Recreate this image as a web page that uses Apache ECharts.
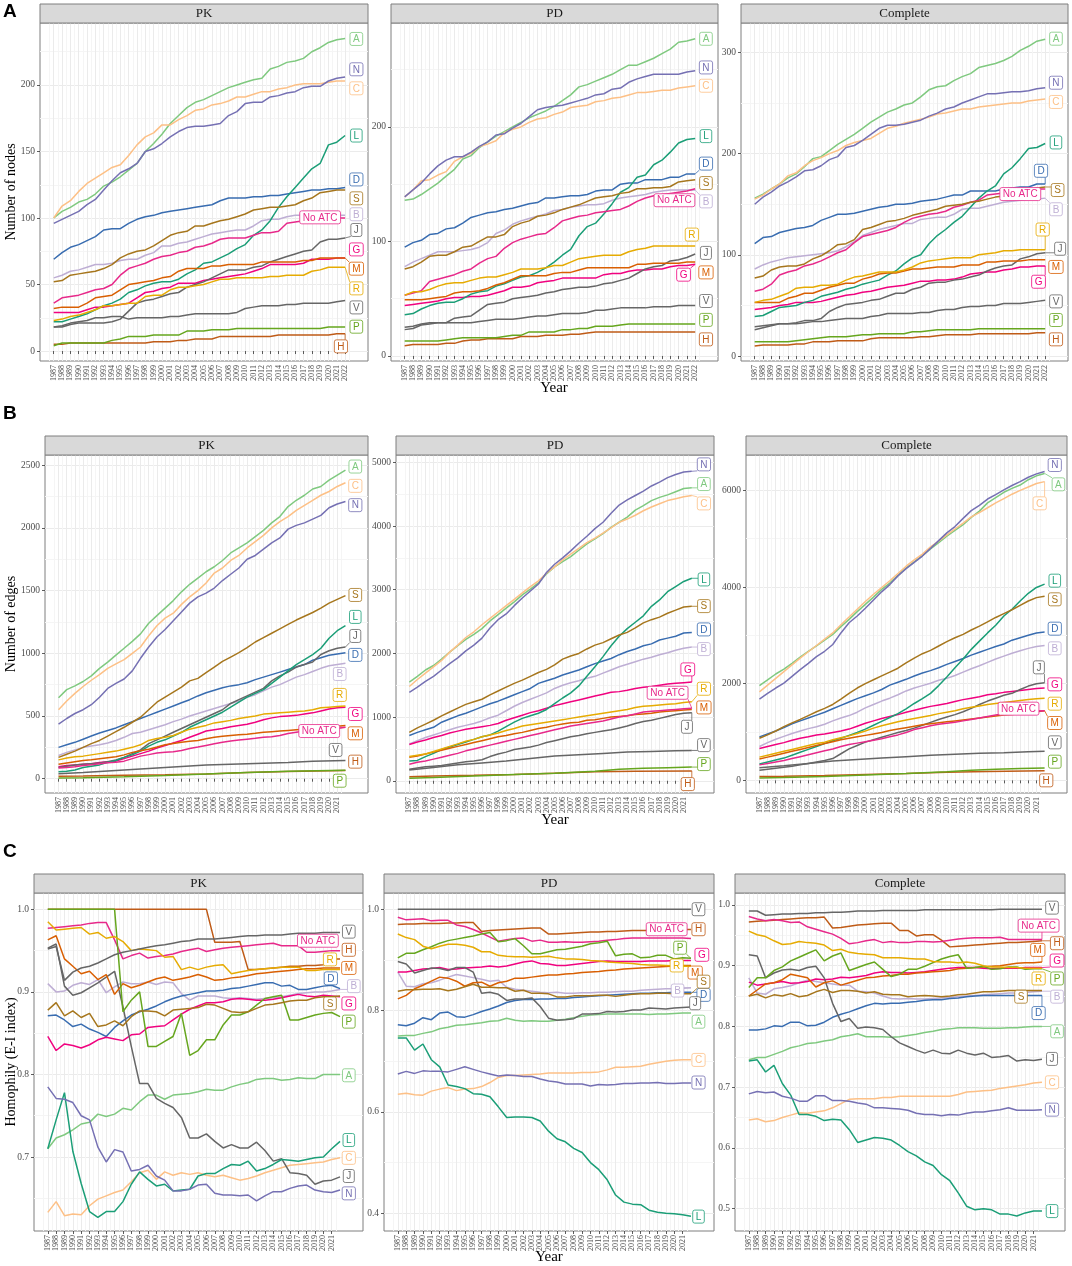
<!DOCTYPE html>
<html>
<head>
<meta charset="utf-8">
<title>Nodes, edges and homophily by ATC group</title>
<script src="https://cdn.jsdelivr.net/npm/echarts@6/dist/echarts.min.js"></script>
<style>
  html, body { margin: 0; padding: 0; background: #fff; }
  #chart { width: 1072px; height: 1266px; }
</style>
</head>
<body>
<div id="chart"></div>
<script>
// x categories
var years = [1987,1988,1989,1990,1991,1992,1993,1994,1995,1996,1997,1998,1999,2000,2001,2002,2003,2004,
             2005,2006,2007,2008,2009,2010,2011,2012,2013,2014,2015,2016,2017,2018,2019,2020,2021,2022];
var yearLabelsA = years;                 // row A labels run to 2022
var yearLabelsBC = years.slice(0, 35);   // rows B and C stop at 2021

var groups = ['A','B','C','D','G','H','J','L','M','N','No ATC','P','R','S','V'];
var groupColors = {
  'A':'#7FC97F','B':'#BEAED4','C':'#FDC086','D':'#386CB0','G':'#F0027F','H':'#BF5B17',
  'J':'#666666','L':'#1B9E77','M':'#D95F02','N':'#7570B3','No ATC':'#E7298A','P':'#66A61E',
  'R':'#E6AB02','S':'#A6761D','V':'#666666'
};

// ---- A: number of nodes (one value per year 1987-2022) ----
var nodesPK = {
  'A':[100,105,108,112,114,118,124,127,131,136, 141,150,156,163,171,177,183,187,189,192, 195,198,200,202,204,205,212,214,217,218, 220,225,228,232,234,235],
  'B':[55,57,60,61,63,65,65,66,68,69, 69,72,74,79,79,81,82,84,86,88, 89,90,91,91,94,98,99,99,101,102, 102,102,102,102,102,102],
  'C':[100,109,113,120,126,130,134,138,140,147, 155,161,164,170,170,174,177,181,182,185, 186,188,191,191,193,195,195,197,198,200, 201,201,201,202,203,203],
  'D':[69,74,78,80,83,86,91,92,92,96, 99,101,102,104,105,106,107,108,109,110, 113,115,115,115,116,116,117,117,118,119, 120,121,121,122,122,123],
  'G':[29,29,29,29,31,33,33,34,35,36, 40,44,45,47,48,51,51,51,53,54, 55,56,57,58,60,62,65,65,65,65, 66,69,69,69,70,70],
  'H':[5,5,6,6,6,6,6,6,6,6, 6,6,7,7,7,8,8,9,9,9, 11,11,11,11,11,11,11,12,12,12, 12,12,12,12,13,13],
  'J':[18,18,20,21,21,21,21,22,24,30, 36,38,39,41,43,44,48,50,52,55, 58,61,61,61,63,64,67,69,71,73, 75,76,82,84,84,85],
  'L':[22,22,24,26,28,31,34,36,39,44, 46,49,51,52,52,54,58,61,66,67, 70,73,77,80,87,91,98,108,116,123, 130,137,141,155,157,162],
  'M':[32,33,33,33,36,40,41,42,46,50, 51,52,53,55,56,60,62,62,62,64, 64,65,65,65,65,67,67,67,67,67, 68,68,70,70,70,70],
  'N':[96,99,102,105,110,114,121,128,134,137, 141,150,152,156,161,165,168,169,169,170, 171,177,180,186,187,187,191,192,194,195, 198,199,199,203,205,206],
  'No ATC':[36,40,41,42,44,46,47,50,57,62, 64,66,69,71,72,74,75,78,79,81, 84,85,85,85,87,89,89,90,96,97, 98,99,99,100,100,100],
  'P':[4,6,6,6,6,6,6,8,9,11, 11,11,12,12,12,12,15,15,15,16, 16,16,17,17,17,17,17,17,17,17, 17,17,17,18,18,18],
  'R':[23,24,26,27,29,31,34,34,35,36, 36,41,42,42,46,48,48,49,50,52, 54,54,55,55,55,55,56,56,57,57, 57,60,61,63,63,63],
  'S':[52,53,57,58,59,60,62,65,70,73, 75,76,79,83,87,89,90,94,94,96, 98,99,101,103,106,107,108,108,109,110, 113,115,119,120,121,121],
  'V':[18,19,21,22,23,25,25,26,26,24, 25,25,25,25,26,26,27,28,28,28, 28,28,29,32,33,34,34,34,35,35, 36,36,36,36,37,38]
};
var nodesPD = {
  'A':[136,137,141,146,151,157,163,172,175,182, 187,192,196,200,204,208,211,214,218,223, 228,235,237,240,243,246,250,254,254,257, 260,264,268,274,275,277],
  'B':[78,82,85,88,91,91,91,92,93,95, 99,107,110,115,118,120,122,124,127,128, 130,131,132,132,133,136,138,139,140,141, 143,144,145,145,145,145],
  'C':[139,145,153,154,158,161,170,174,177,183, 185,188,195,198,200,204,207,208,211,213, 217,218,219,222,223,225,226,228,230,230, 231,232,232,234,235,236],
  'D':[95,99,101,106,107,111,112,116,121,123, 125,126,128,129,131,133,134,138,138,139, 140,140,141,144,145,145,150,151,151,154, 154,154,156,156,159,159],
  'G':[44,45,46,47,48,50,51,51,52,52, 53,55,57,60,60,61,64,65,66,68, 68,68,68,68,71,72,72,74,75,75, 76,76,78,79,79,80],
  'H':[9,10,10,10,10,11,11,13,14,14, 15,15,15,15,17,17,17,18,18,18, 19,19,20,21,21,21,21,21,21,21, 21,21,21,21,21,21],
  'J':[25,26,28,29,29,29,33,34,35,40, 45,46,47,50,51,52,53,55,56,58, 59,60,60,61,63,64,66,68,72,76, 78,79,83,84,86,89],
  'L':[36,37,41,44,46,47,47,50,54,56, 57,61,63,66,69,70,73,77,82,88, 93,105,113,116,124,133,143,147,156,158, 167,171,178,186,189,190],
  'M':[49,49,49,50,51,52,55,56,56,57, 59,62,64,67,70,70,70,70,72,73, 73,75,77,77,77,77,77,77,80,80, 81,81,81,81,82,82],
  'N':[139,145,151,159,166,171,174,174,178,183, 187,193,194,199,203,209,215,217,218,219, 221,223,225,228,229,233,234,239,242,244, 246,246,246,246,248,249],
  'No ATC':[53,55,57,65,67,69,71,74,76,81, 85,87,94,99,102,104,106,107,112,118, 120,122,123,125,126,127,128,131,135,138, 140,141,142,143,144,146],
  'P':[13,13,13,13,13,14,15,16,16,16, 16,16,17,18,18,21,21,21,21,23, 23,24,24,26,26,26,27,28,28,28, 28,28,28,28,28,28],
  'R':[53,56,56,58,61,63,64,64,66,68, 69,69,71,73,76,76,76,77,79,79, 82,85,86,87,88,88,88,91,93,94, 96,96,96,96,96,96],
  'S':[76,78,82,87,88,88,91,95,96,100, 104,104,106,113,116,118,122,123,125,128, 130,132,135,138,139,140,142,143,146,146, 147,147,148,152,153,154],
  'V':[23,24,27,28,29,29,29,29,29,30, 31,32,32,32,33,34,35,35,36,37, 37,37,38,40,40,41,42,42,42,42, 43,43,43,44,44,44]
};
var nodesAll = {
  'A':[156,160,165,170,176,180,187,195,197,203, 209,214,219,225,231,236,241,244,248,250, 256,263,266,267,272,276,279,285,287,289, 292,296,302,306,311,313],
  'B':[86,90,93,95,97,98,99,100,101,102, 104,108,113,119,122,125,127,129,131,131, 135,136,137,137,140,145,146,146,148,150, 152,153,154,155,155,156],
  'C':[155,159,165,170,178,181,188,193,196,200, 203,208,211,213,215,220,225,227,230,232, 234,236,239,240,242,244,244,246,247,248, 249,250,250,252,253,254],
  'D':[111,117,118,122,124,126,127,129,134,137, 140,140,141,143,145,147,148,150,150,151, 153,154,155,157,159,159,163,163,163,163, 165,166,167,167,170,170],
  'G':[46,47,48,50,51,53,53,53,54,56, 58,60,61,63,64,66,68,69,70,72, 74,74,75,75,76,78,81,82,83,83, 85,86,88,88,89,89],
  'H':[10,11,11,11,11,12,12,14,14,14, 15,15,15,15,17,18,18,18,18,18, 19,19,20,21,21,21,21,22,22,22, 22,22,22,22,23,23],
  'J':[26,28,30,32,32,33,35,35,37,44, 48,51,52,53,55,56,59,62,62,66, 68,72,73,73,75,76,78,80,84,87, 89,90,96,98,101,102],
  'L':[39,40,44,48,49,50,53,55,59,61, 63,66,68,71,73,75,80,84,91,97, 100,111,119,125,132,138,147,156,163,168, 180,186,195,205,206,210],
  'M':[53,53,53,53,57,59,62,62,65,68, 70,72,72,76,78,81,82,82,84,86, 86,87,88,88,88,90,90,90,93,93, 94,94,94,95,95,95],
  'N':[150,157,162,168,172,177,183,184,188,194, 197,206,208,213,219,225,228,228,229,231, 233,237,240,244,246,250,253,256,259,259, 260,261,261,262,264,265],
  'No ATC':[64,66,71,80,83,85,89,91,94,98, 102,105,112,118,120,122,124,127,132,136, 138,140,141,143,147,149,152,154,159,160, 161,162,163,164,165,165],
  'P':[14,14,14,14,14,15,16,17,18,19, 19,19,20,21,21,22,22,22,22,24, 24,25,26,26,26,26,26,27,27,27, 27,27,27,27,27,27],
  'R':[53,55,56,59,62,67,68,68,70,70, 71,75,78,79,81,83,83,83,85,88, 92,94,95,96,97,97,97,100,101,102, 104,104,105,105,105,105],
  'S':[77,79,85,88,89,89,91,96,99,104, 110,111,115,125,127,130,133,134,136,139, 141,143,145,148,149,150,152,153,155,157, 158,160,162,164,166,167],
  'V':[29,30,31,32,32,32,33,34,34,35, 36,37,37,37,39,40,42,42,42,42, 43,43,45,46,46,48,49,49,50,50, 52,52,52,53,54,55]
};

// ---- B: number of edges (V, P, H read only at a few years: [year, value]) ----
var edgesPK = {
  'A':[645,710,740,775,820,880,930,985,1040,1095, 1155,1240,1300,1360,1420,1490,1550,1600,1650,1690, 1740,1800,1840,1880,1930,1980,2040,2090,2170,2220, 2260,2310,2330,2380,2420,2460],
  'B':[185,210,230,250,260,270,285,305,330,360, 370,390,410,430,455,475,500,520,540,560, 580,600,620,650,670,700,730,750,780,810, 830,855,880,900,910,920],
  'C':[550,620,680,735,785,830,880,915,950,1000, 1050,1140,1220,1280,1320,1390,1450,1500,1560,1640, 1680,1740,1780,1840,1890,1940,2000,2050,2090,2140, 2180,2220,2260,2290,2330,2360],
  'D':[250,270,290,315,340,365,385,405,430,455, 480,505,530,555,580,605,630,660,685,705, 725,740,750,765,790,810,830,850,870,890, 910,945,965,985,995,1005],
  'G':[95,105,110,115,120,130,135,140,160,180, 200,220,245,265,285,305,330,355,380,390, 400,415,425,435,450,470,485,495,500,505, 515,525,540,555,565,570],
  'H':[[1987,20],[1990,22],[1995,28],[2000,32],[2005,38],[2010,50],[2015,58],[2022,65]],
  'J':[90,100,110,115,120,125,135,150,170,200, 230,280,310,340,370,400,430,460,490,520, 550,600,630,660,690,720,780,820,850,890, 910,930,990,1020,1040,1050],
  'L':[55,60,70,90,100,110,130,145,170,190, 220,260,290,310,340,370,410,440,470,500, 530,570,610,650,680,710,760,810,860,910, 950,990,1040,1120,1180,1220],
  'M':[115,125,135,145,152,160,168,175,190,210, 222,235,252,270,280,290,298,305,318,330, 338,345,350,355,362,370,375,380,385,390, 395,400,405,410,418,425],
  'N':[435,480,520,550,590,650,720,760,795,860, 960,1050,1130,1190,1260,1330,1400,1450,1480,1520, 1580,1630,1680,1750,1780,1830,1880,1920,1990,2020, 2040,2070,2100,2160,2190,2210],
  'No ATC':[85,90,95,105,112,120,128,132,140,160, 180,192,205,210,215,225,240,252,265,278, 290,300,308,315,322,330,335,345,360,370, 380,385,390,395,400,410],
  'P':[[1987,5],[1990,8],[1995,15],[2000,25],[2005,38],[2010,50],[2015,60],[2022,68]],
  'R':[150,165,175,180,190,200,210,220,235,250, 270,305,320,330,345,370,395,410,425,445, 455,465,480,490,500,515,520,525,530,535, 540,550,565,570,575,580],
  'S':[170,195,220,250,280,305,340,375,410,450, 490,550,610,650,690,730,780,800,845,890, 935,970,1005,1045,1090,1125,1160,1195,1230,1265, 1295,1325,1360,1400,1430,1460],
  'V':[[1987,40],[1990,50],[1995,70],[2000,90],[2005,110],[2010,120],[2015,130],[2018,140],[2022,145]]
};
var edgesPD = {
  'A':[1550,1640,1740,1810,1910,2020,2120,2220,2300,2390, 2510,2610,2710,2810,2920,3010,3110,3250,3360,3440, 3520,3620,3720,3800,3880,3980,4060,4140,4250,4320, 4400,4450,4490,4540,4590,4600],
  'B':[580,630,680,720,760,800,840,870,900,940, 990,1030,1100,1170,1230,1280,1330,1380,1450,1500, 1540,1570,1610,1640,1690,1740,1790,1830,1870,1910, 1940,1980,2010,2050,2080,2100],
  'C':[1480,1590,1690,1790,1890,2020,2130,2250,2340,2450, 2550,2650,2750,2850,2950,3050,3140,3260,3360,3470, 3560,3650,3740,3810,3890,3970,4060,4110,4170,4240, 4300,4350,4400,4430,4460,4480],
  'D':[710,760,800,840,920,970,1020,1060,1110,1160, 1210,1250,1300,1350,1400,1450,1530,1570,1610,1660, 1700,1740,1790,1840,1880,1920,1980,2030,2070,2120, 2150,2210,2240,2270,2320,2330],
  'G':[570,610,640,680,710,750,780,810,830,850, 870,900,950,990,1030,1070,1100,1140,1180,1210, 1240,1270,1300,1330,1360,1390,1400,1420,1450,1470, 1480,1500,1520,1530,1540,1550],
  'H':[[1987,65],[1990,75],[1995,85],[2000,100],[2005,120],[2010,140],[2015,150],[2022,155]],
  'J':[180,200,220,230,240,260,280,300,310,330, 380,420,450,490,510,530,560,600,630,660, 690,710,740,760,780,800,830,860,900,930, 950,980,1010,1040,1060,1070],
  'L':[310,320,380,430,490,530,570,610,650,690, 720,780,850,920,980,1020,1060,1120,1210,1300, 1380,1490,1640,1790,1950,2120,2270,2390,2490,2590, 2740,2840,2970,3050,3130,3180],
  'M':[370,390,420,450,480,510,540,570,600,630, 660,690,710,740,760,790,820,840,870,890, 910,920,950,960,980,1000,1010,1020,1040,1050, 1060,1080,1090,1100,1110,1120],
  'N':[1390,1470,1560,1640,1740,1840,1930,2040,2130,2240, 2400,2530,2620,2750,2870,2980,3090,3270,3400,3500, 3610,3730,3840,3960,4060,4200,4330,4410,4480,4550, 4630,4690,4760,4810,4850,4860],
  'No ATC':[260,290,310,340,370,400,430,470,500,530, 560,590,620,650,680,710,740,770,800,830, 860,880,900,920,940,970,1000,1020,1050,1080, 1090,1100,1110,1120,1130,1140],
  'P':[[1987,40],[1990,50],[1995,75],[2000,100],[2005,120],[2010,150],[2013,180],[2016,195],[2019,205],[2022,215]],
  'R':[380,400,420,460,500,540,580,620,650,690, 720,750,790,820,860,880,900,920,940,960, 980,1000,1020,1040,1060,1080,1100,1120,1150,1170, 1180,1190,1200,1210,1230,1240],
  'S':[760,830,890,950,1020,1080,1140,1200,1240,1280, 1350,1410,1470,1530,1580,1640,1700,1750,1820,1910, 1960,2000,2070,2130,2170,2230,2290,2330,2400,2480, 2530,2570,2630,2680,2730,2740],
  'V':[[1987,170],[1990,210],[1993,250],[1996,280],[1999,310],[2002,350],[2005,390],[2008,410],[2011,430],[2014,450],[2017,460],[2020,470],[2022,475]]
};
var edgesAll = {
  'A':[1960,2080,2200,2300,2420,2550,2670,2780,2900,3020, 3180,3330,3490,3640,3790,3950,4080,4240,4390,4520, 4650,4790,4920,5050,5170,5290,5440,5570,5740,5850, 5960,6040,6110,6220,6300,6350],
  'B':[700,780,850,910,970,1020,1070,1110,1160,1230, 1290,1340,1410,1500,1570,1640,1700,1770,1850,1910, 1960,2010,2070,2110,2170,2240,2310,2370,2440,2510, 2570,2630,2680,2730,2770,2790],
  'C':[1830,1970,2110,2250,2390,2530,2660,2790,2920,3050, 3220,3380,3540,3700,3850,3990,4130,4280,4430,4560, 4680,4830,4950,5080,5200,5320,5450,5540,5640,5740, 5830,5920,6000,6070,6140,6180],
  'D':[900,960,1020,1090,1170,1230,1290,1350,1410,1480, 1550,1620,1690,1750,1810,1880,1970,2030,2090,2160, 2220,2270,2330,2400,2460,2520,2590,2650,2710,2770, 2820,2900,2950,3000,3050,3070],
  'G':[660,700,740,780,830,870,900,940,960,990, 1020,1060,1120,1180,1230,1280,1320,1360,1410,1450, 1490,1530,1560,1590,1630,1670,1700,1730,1770,1790, 1820,1840,1860,1880,1900,1910],
  'H':[[1987,80],[1990,85],[1995,100],[2000,120],[2005,140],[2010,165],[2015,185],[2022,200]],
  'J':[210,230,250,270,290,320,350,380,410,450, 550,650,720,790,840,890,940,990,1030,1080, 1140,1200,1260,1310,1360,1420,1490,1570,1640,1700, 1760,1800,1880,1950,2000,2020],
  'L':[340,380,420,460,520,580,640,700,760,820, 870,930,990,1060,1140,1220,1300,1380,1480,1590, 1690,1800,1960,2140,2330,2510,2710,2880,3050,3210, 3400,3540,3710,3870,3990,4060],
  'M':[440,480,520,560,600,640,680,720,760,800, 840,870,900,930,960,990,1030,1060,1090,1120, 1150,1170,1190,1210,1230,1250,1270,1290,1310,1330, 1350,1360,1380,1400,1420,1440],
  'N':[1680,1800,1910,2010,2150,2290,2420,2560,2670,2810, 3050,3260,3400,3560,3730,3900,4050,4230,4380,4510, 4640,4800,4960,5120,5250,5420,5580,5690,5820,5910, 6010,6100,6180,6270,6340,6390],
  'No ATC':[320,350,380,410,450,490,530,570,610,650, 700,740,770,800,830,860,900,940,990,1050, 1090,1130,1160,1180,1200,1230,1260,1290,1320,1350, 1380,1400,1410,1420,1430,1440],
  'P':[[1987,50],[1990,60],[1995,80],[2000,110],[2005,140],[2010,180],[2013,210],[2016,230],[2019,245],[2022,255]],
  'R':[480,520,560,600,640,680,720,760,790,840, 880,920,970,1020,1080,1130,1170,1210,1250,1280, 1310,1340,1380,1410,1440,1480,1510,1540,1570,1590, 1610,1630,1650,1670,1690,1700],
  'S':[870,940,1020,1110,1190,1260,1340,1420,1490,1570, 1680,1800,1910,2000,2080,2160,2240,2320,2430,2530, 2620,2690,2780,2870,2950,3020,3110,3190,3280,3370, 3450,3530,3620,3710,3780,3810],
  'V':[[1987,260],[1990,300],[1993,350],[1996,400],[1999,430],[2002,460],[2005,490],[2008,520],[2011,540],[2014,560],[2017,570],[2020,590],[2022,600]]
};

// ---- C: homophily (E-I index) ----
var homPK = {
  'A':[0.710,0.723,0.727,0.733,0.740,0.742,0.752,0.749,0.752,0.759, 0.757,0.767,0.775,0.775,0.770,0.775,0.776,0.777,0.779,0.782, 0.781,0.781,0.785,0.788,0.790,0.794,0.795,0.795,0.793,0.794, 0.796,0.795,0.795,0.800,0.800,0.800],
  'B':[0.910,0.900,0.901,0.908,0.911,0.909,0.915,0.899,0.906,0.912, 0.910,0.910,0.912,0.909,0.912,0.911,0.898,0.890,0.895,0.895, 0.895,0.893,0.892,0.893,0.892,0.891,0.892,0.893,0.894,0.896, 0.898,0.899,0.900,0.900,0.901,0.903],
  'C':[0.633,0.646,0.629,0.631,0.630,0.641,0.649,0.653,0.657,0.660, 0.670,0.681,0.684,0.673,0.682,0.678,0.681,0.679,0.681,0.678, 0.676,0.678,0.675,0.672,0.674,0.677,0.681,0.684,0.687,0.690, 0.691,0.692,0.693,0.694,0.697,0.699],
  'D':[0.871,0.872,0.866,0.858,0.861,0.855,0.851,0.846,0.857,0.865, 0.872,0.876,0.879,0.883,0.888,0.892,0.895,0.897,0.899,0.901, 0.901,0.902,0.904,0.905,0.907,0.909,0.911,0.911,0.907,0.908, 0.903,0.903,0.905,0.907,0.908,0.904],
  'G':[0.846,0.829,0.837,0.835,0.832,0.836,0.842,0.845,0.843,0.841, 0.848,0.849,0.857,0.858,0.859,0.866,0.873,0.879,0.883,0.887, 0.887,0.888,0.891,0.892,0.891,0.890,0.890,0.891,0.893,0.895, 0.897,0.895,0.894,0.896,0.895,0.894],
  'H':[1,1,1,1,1,1,1,1,1,1, 1,1,1,1,1,1,1,1,1,1, 0.960,0.960,0.960,0.961,0.927,0.927,0.928,0.929,0.930,0.931, 0.931,0.932,0.932,0.933,0.940,0.940],
  'J':[0.953,0.958,0.907,0.896,0.899,0.905,0.911,0.918,0.925,0.882, 0.834,0.789,0.789,0.771,0.765,0.760,0.748,0.723,0.723,0.728, 0.719,0.711,0.715,0.711,0.711,0.718,0.708,0.695,0.698,0.681, 0.680,0.678,0.667,0.671,0.672,0.676],
  'L':[0.710,0.745,0.778,0.707,0.668,0.634,0.627,0.634,0.634,0.646, 0.667,0.682,0.673,0.665,0.667,0.659,0.660,0.661,0.677,0.680, 0.680,0.686,0.691,0.690,0.695,0.683,0.686,0.691,0.697,0.696, 0.695,0.697,0.699,0.700,0.710,0.719],
  'M':[0.963,0.968,0.940,0.931,0.922,0.925,0.915,0.921,0.897,0.910, 0.905,0.908,0.912,0.916,0.918,0.914,0.916,0.918,0.921,0.918, 0.914,0.915,0.917,0.918,0.920,0.922,0.923,0.924,0.925,0.926, 0.927,0.928,0.928,0.929,0.929,0.929],
  'N':[0.785,0.771,0.770,0.766,0.750,0.745,0.712,0.694,0.709,0.706, 0.683,0.685,0.690,0.677,0.672,0.659,0.659,0.661,0.666,0.667, 0.656,0.654,0.654,0.653,0.654,0.647,0.653,0.658,0.658,0.662, 0.665,0.666,0.660,0.658,0.657,0.660],
  'No ATC':[0.977,0.978,0.979,0.980,0.981,0.983,0.984,0.984,0.963,0.940, 0.944,0.947,0.941,0.943,0.944,0.946,0.949,0.951,0.953,0.949, 0.951,0.953,0.954,0.955,0.956,0.957,0.958,0.959,0.956,0.956, 0.956,0.948,0.948,0.949,0.950,0.950],
  'P':[1,1,1,1,1,1,1,1,1,0.876, 0.890,0.900,0.834,0.834,0.840,0.846,0.874,0.823,0.829,0.842, 0.842,0.860,0.872,0.872,0.876,0.884,0.892,0.894,0.896,0.866, 0.866,0.869,0.872,0.874,0.875,0.870],
  'R':[0.985,0.975,0.976,0.977,0.978,0.970,0.972,0.965,0.967,0.961, 0.950,0.952,0.951,0.950,0.942,0.943,0.927,0.930,0.927,0.930, 0.932,0.933,0.922,0.924,0.926,0.927,0.928,0.929,0.930,0.930, 0.930,0.926,0.926,0.927,0.927,0.927],
  'S':[0.878,0.887,0.871,0.877,0.869,0.874,0.858,0.860,0.865,0.859, 0.870,0.877,0.877,0.876,0.871,0.878,0.879,0.880,0.881,0.885, 0.884,0.880,0.876,0.875,0.876,0.880,0.884,0.885,0.887,0.889, 0.890,0.890,0.893,0.894,0.894,0.895],
  'V':[0.952,0.955,0.914,0.924,0.929,0.931,0.935,0.940,0.945,0.948, 0.950,0.952,0.954,0.956,0.957,0.959,0.961,0.962,0.964,0.964, 0.964,0.965,0.966,0.967,0.968,0.968,0.969,0.969,0.969,0.970, 0.971,0.971,0.971,0.972,0.972,0.972]
};
var homPD = {
  'A':[0.750,0.751,0.751,0.755,0.758,0.764,0.767,0.771,0.772,0.774, 0.776,0.779,0.780,0.785,0.781,0.779,0.780,0.779,0.779,0.781, 0.783,0.786,0.789,0.791,0.792,0.793,0.793,0.793,0.793,0.793, 0.792,0.793,0.793,0.794,0.795,0.795],
  'B':[0.876,0.848,0.847,0.853,0.855,0.860,0.866,0.871,0.868,0.865, 0.862,0.858,0.860,0.846,0.842,0.840,0.838,0.836,0.835,0.836, 0.834,0.834,0.835,0.835,0.836,0.836,0.837,0.838,0.838,0.840, 0.841,0.842,0.843,0.843,0.844,0.845],
  'C':[0.635,0.637,0.634,0.633,0.641,0.645,0.648,0.642,0.645,0.646, 0.650,0.658,0.668,0.672,0.672,0.673,0.674,0.675,0.677,0.677, 0.677,0.677,0.678,0.678,0.679,0.683,0.688,0.688,0.689,0.690, 0.694,0.697,0.700,0.702,0.703,0.703],
  'D':[0.772,0.770,0.775,0.786,0.782,0.795,0.797,0.788,0.787,0.792, 0.798,0.803,0.809,0.816,0.820,0.822,0.822,0.823,0.823,0.824, 0.824,0.826,0.827,0.828,0.829,0.830,0.831,0.832,0.833,0.834, 0.834,0.835,0.835,0.836,0.836,0.836],
  'G':[0.876,0.876,0.879,0.882,0.883,0.885,0.881,0.882,0.884,0.885, 0.886,0.888,0.886,0.888,0.892,0.896,0.898,0.893,0.892,0.889, 0.889,0.891,0.893,0.895,0.897,0.898,0.897,0.897,0.897,0.897, 0.898,0.898,0.898,0.899,0.899,0.899],
  'H':[0.970,0.971,0.971,0.972,0.972,0.972,0.973,0.973,0.974,0.974, 0.956,0.958,0.959,0.960,0.961,0.962,0.963,0.963,0.951,0.951, 0.952,0.953,0.954,0.955,0.955,0.956,0.956,0.957,0.958,0.958, 0.958,0.959,0.959,0.959,0.960,0.960],
  'J':[0.897,0.892,0.874,0.879,0.884,0.883,0.879,0.885,0.885,0.876, 0.834,0.836,0.832,0.820,0.823,0.823,0.825,0.808,0.785,0.781, 0.782,0.784,0.793,0.793,0.794,0.798,0.797,0.798,0.801,0.801, 0.805,0.804,0.803,0.805,0.806,0.807],
  'L':[0.746,0.746,0.722,0.734,0.703,0.689,0.653,0.650,0.646,0.636, 0.635,0.630,0.610,0.589,0.590,0.590,0.589,0.582,0.562,0.547, 0.541,0.528,0.520,0.500,0.486,0.466,0.436,0.422,0.418,0.417, 0.406,0.402,0.400,0.399,0.397,0.394],
  'M':[0.823,0.830,0.843,0.850,0.858,0.866,0.864,0.858,0.848,0.855, 0.856,0.848,0.855,0.858,0.864,0.864,0.866,0.868,0.870,0.870, 0.872,0.873,0.875,0.876,0.877,0.879,0.880,0.882,0.883,0.884, 0.885,0.886,0.887,0.888,0.889,0.889],
  'N':[0.675,0.680,0.676,0.681,0.680,0.680,0.679,0.684,0.689,0.684, 0.679,0.675,0.671,0.673,0.672,0.670,0.670,0.665,0.661,0.659, 0.655,0.655,0.655,0.651,0.654,0.653,0.654,0.656,0.656,0.657, 0.657,0.658,0.656,0.656,0.657,0.657],
  'No ATC':[0.984,0.979,0.980,0.981,0.977,0.978,0.978,0.969,0.966,0.960, 0.953,0.945,0.937,0.940,0.942,0.943,0.937,0.939,0.935,0.935, 0.936,0.935,0.935,0.936,0.937,0.939,0.940,0.942,0.943,0.943, 0.943,0.943,0.943,0.943,0.943,0.942],
  'P':[0.904,0.913,0.913,0.920,0.926,0.933,0.938,0.941,0.944,0.947, 0.951,0.954,0.936,0.938,0.942,0.928,0.912,0.912,0.916,0.920, 0.921,0.924,0.927,0.932,0.934,0.937,0.908,0.911,0.912,0.904, 0.905,0.909,0.909,0.902,0.904,0.903],
  'R':[0.951,0.944,0.940,0.927,0.922,0.927,0.931,0.931,0.929,0.925, 0.916,0.916,0.909,0.907,0.906,0.906,0.905,0.906,0.907,0.904, 0.902,0.902,0.901,0.899,0.898,0.896,0.895,0.894,0.893,0.891, 0.890,0.890,0.889,0.888,0.888,0.887],
  'S':[0.838,0.841,0.841,0.842,0.842,0.843,0.839,0.842,0.847,0.852, 0.846,0.846,0.845,0.845,0.838,0.840,0.834,0.834,0.833,0.827, 0.827,0.829,0.829,0.829,0.830,0.830,0.828,0.830,0.832,0.833, 0.833,0.834,0.834,0.833,0.833,0.833],
  'V':[1,1,1,1,1,1,1,1,1,1, 1,1,1,1,1,1,1,1,1,1, 1,1,1,1,1,1,1,1,1,1, 1,1,1,1,1,1]
};
var homAll = {
  'A':[0.745,0.749,0.749,0.754,0.759,0.765,0.768,0.772,0.773,0.776, 0.778,0.783,0.785,0.788,0.783,0.783,0.783,0.782,0.783,0.785, 0.787,0.790,0.792,0.795,0.796,0.798,0.798,0.798,0.797,0.797, 0.797,0.798,0.798,0.799,0.800,0.800],
  'B':[0.880,0.855,0.853,0.862,0.864,0.867,0.872,0.876,0.874,0.872, 0.870,0.868,0.868,0.858,0.857,0.855,0.850,0.846,0.845,0.846, 0.845,0.845,0.846,0.847,0.848,0.849,0.850,0.851,0.852,0.853, 0.854,0.855,0.855,0.856,0.857,0.858],
  'C':[0.646,0.648,0.643,0.645,0.650,0.654,0.658,0.657,0.659,0.661, 0.666,0.673,0.680,0.681,0.681,0.681,0.683,0.683,0.685,0.685, 0.685,0.685,0.685,0.685,0.685,0.688,0.692,0.693,0.694,0.695, 0.698,0.700,0.702,0.704,0.707,0.708],
  'D':[0.794,0.794,0.796,0.801,0.800,0.807,0.807,0.801,0.802,0.807, 0.815,0.820,0.824,0.829,0.834,0.838,0.837,0.838,0.838,0.840, 0.841,0.843,0.844,0.844,0.846,0.847,0.849,0.850,0.851,0.851, 0.851,0.851,0.851,0.851,0.851,0.851],
  'G':[0.873,0.868,0.870,0.872,0.874,0.871,0.872,0.874,0.878,0.877, 0.878,0.881,0.880,0.882,0.884,0.888,0.890,0.889,0.889,0.888, 0.889,0.890,0.892,0.894,0.896,0.897,0.897,0.897,0.896,0.895, 0.896,0.896,0.896,0.897,0.897,0.897],
  'H':[0.972,0.973,0.974,0.975,0.976,0.977,0.978,0.979,0.979,0.980, 0.962,0.963,0.965,0.967,0.968,0.969,0.970,0.970,0.958,0.958, 0.949,0.951,0.951,0.942,0.931,0.932,0.933,0.934,0.935,0.936, 0.937,0.938,0.938,0.939,0.940,0.941],
  'J':[0.918,0.916,0.880,0.888,0.893,0.894,0.892,0.897,0.899,0.880, 0.838,0.808,0.813,0.797,0.799,0.798,0.795,0.783,0.773,0.767, 0.761,0.756,0.761,0.756,0.755,0.761,0.756,0.753,0.756,0.749, 0.750,0.752,0.743,0.745,0.744,0.746],
  'L':[0.743,0.745,0.725,0.736,0.706,0.687,0.655,0.655,0.652,0.645, 0.647,0.646,0.630,0.609,0.613,0.617,0.616,0.613,0.604,0.594, 0.587,0.577,0.571,0.556,0.546,0.526,0.504,0.498,0.500,0.498, 0.491,0.491,0.488,0.493,0.496,0.496],
  'M':[0.850,0.860,0.870,0.872,0.877,0.886,0.883,0.880,0.865,0.872, 0.875,0.868,0.872,0.876,0.880,0.881,0.883,0.884,0.886,0.886, 0.888,0.889,0.890,0.891,0.892,0.895,0.896,0.897,0.898,0.899, 0.900,0.902,0.904,0.905,0.905,0.906],
  'N':[0.689,0.693,0.691,0.692,0.685,0.682,0.677,0.677,0.686,0.686, 0.678,0.678,0.677,0.674,0.672,0.666,0.666,0.665,0.664,0.662, 0.657,0.655,0.655,0.653,0.655,0.654,0.657,0.659,0.659,0.661, 0.663,0.666,0.662,0.662,0.662,0.663],
  'No ATC':[0.981,0.977,0.974,0.976,0.974,0.971,0.972,0.964,0.960,0.956, 0.952,0.945,0.936,0.938,0.941,0.943,0.938,0.940,0.938,0.938, 0.940,0.940,0.939,0.940,0.942,0.944,0.945,0.946,0.946,0.946, 0.947,0.943,0.943,0.943,0.943,0.943],
  'P':[0.864,0.880,0.880,0.892,0.898,0.908,0.914,0.920,0.926,0.908, 0.916,0.921,0.892,0.897,0.902,0.906,0.894,0.882,0.886,0.894, 0.894,0.899,0.905,0.911,0.915,0.918,0.896,0.897,0.899,0.894, 0.895,0.898,0.898,0.894,0.895,0.895],
  'R':[0.957,0.951,0.948,0.941,0.935,0.936,0.940,0.938,0.937,0.934, 0.925,0.927,0.922,0.920,0.919,0.918,0.913,0.913,0.913,0.912, 0.911,0.911,0.907,0.906,0.906,0.905,0.906,0.904,0.900,0.898, 0.898,0.897,0.897,0.896,0.896,0.896],
  'S':[0.850,0.853,0.847,0.852,0.850,0.854,0.849,0.851,0.857,0.861, 0.856,0.859,0.859,0.858,0.855,0.857,0.853,0.852,0.852,0.849, 0.850,0.851,0.850,0.849,0.850,0.852,0.853,0.855,0.857,0.857, 0.858,0.859,0.859,0.859,0.859,0.859],
  'V':[0.990,0.990,0.983,0.984,0.985,0.985,0.986,0.986,0.987,0.987, 0.988,0.988,0.989,0.990,0.990,0.990,0.991,0.991,0.991,0.991, 0.991,0.992,0.992,0.992,0.992,0.992,0.992,0.992,0.992,0.992, 0.993,0.993,0.993,0.993,0.993,0.993]
};

// y tick labels and minor grid values
var ticksNodesPK = [0,50,100,150,200],           minorNodesPK = [25,75,125,175,225];
var ticksNodesPD = [0,100,200],                  minorNodesPD = [50,150,250];
var ticksNodesAll = [0,100,200,300],             minorNodesAll = [50,150,250];
var ticksEdgesPK = [0,500,1000,1500,2000,2500],  minorEdgesPK = [250,750,1250,1750,2250];
var ticksEdgesPD = [0,1000,2000,3000,4000,5000], minorEdgesPD = [500,1500,2500,3500,4500];
var ticksEdgesAll = [0,2000,4000,6000],          minorEdgesAll = [1000,3000,5000];
var ticksHomPK = [0.7,0.8,0.9,1.0],              minorHomPK = [0.65,0.75,0.85,0.95];
var ticksHomPD = [0.4,0.6,0.8,1.0],              minorHomPD = [0.5,0.7,0.9];
var ticksHomAll = [0.5,0.6,0.7,0.8,0.9,1.0],     minorHomAll = [0.55,0.65,0.75,0.85,0.95];

// repelled label boxes: [x, y] where each box sits (layout only)
var labNodesPK = {'A':[2023.35,234.6],'B':[2023.35,102.8],'C':[2023.35,197.5],'D':[2023.35,129],'G':[2023.35,76.4],'H':[2021.5,3.5],'J':[2023.35,91],'L':[2023.35,162],'M':[2023.35,61.9],'N':[2023.35,211.8],'No ATC':[2019,100.5],'P':[2023.35,18.3],'R':[2023.35,47.1],'S':[2023.35,114.8],'V':[2023.35,32.8]};
var labNodesPD = {'A':[2023.3,277],'B':[2023.3,135],'C':[2023.3,236],'D':[2023.3,168],'G':[2020.6,71],'H':[2023.3,14.5],'J':[2023.3,90],'L':[2023.3,192],'M':[2023.3,73],'N':[2023.3,252],'No ATC':[2019.5,136],'P':[2023.3,31.5],'R':[2021.6,106],'S':[2023.3,151],'V':[2023.3,48]};
var labNodesAll = {'A':[2023.3,313.5],'B':[2023.3,145],'C':[2023.3,251],'D':[2021.5,183],'G':[2021.2,73.4],'H':[2023.3,16.5],'J':[2023.8,106],'L':[2023.3,211],'M':[2023.3,88],'N':[2023.3,270],'No ATC':[2019,160],'P':[2023.3,35.6],'R':[2021.7,125],'S':[2023.5,164],'V':[2023.3,54]};
var labEdgesPK = {'A':[2023.2,2489],'B':[2021.3,835],'C':[2023.2,2335],'D':[2023.2,987],'G':[2023.2,516],'H':[2023.2,136],'J':[2023.2,1138],'L':[2023.2,1290],'M':[2023.2,362],'N':[2023.2,2181],'No ATC':[2018.8,380],'P':[2021.3,-16],'R':[2021.3,668],'S':[2023.2,1465],'V':[2020.8,229]};
var labEdgesPD = {'A':[2023.5,4660],'B':[2023.5,2068],'C':[2023.5,4356],'D':[2023.5,2377],'G':[2021.5,1749],'H':[2021.5,-52],'J':[2021.4,848],'L':[2023.5,3162],'M':[2023.5,1152],'N':[2023.5,4969],'No ATC':[2019,1382],'P':[2023.5,262],'R':[2023.5,1445],'S':[2023.5,2743],'V':[2023.5,560]};
var labEdgesAll = {'A':[2023.7,6124],'B':[2023.25,2731],'C':[2021.4,5731],'D':[2023.25,3138],'G':[2023.25,1986],'H':[2022.2,0],'J':[2021.3,2338],'L':[2023.25,4131],'M':[2023.25,1186],'N':[2023.25,6524],'No ATC':[2018.8,1483],'P':[2023.25,386],'R':[2023.25,1586],'S':[2023.25,3745],'V':[2023.25,786]};
var labHomPK = {'A':[2023.05,0.799],'B':[2023.65,0.907],'C':[2023.05,0.699],'D':[2020.9,0.9164],'G':[2023.05,0.886],'H':[2023.05,0.951],'J':[2023.05,0.677],'L':[2023.05,0.7206],'M':[2023.05,0.929],'N':[2023.05,0.656],'No ATC':[2019.35,0.962],'P':[2023.05,0.864],'R':[2020.8,0.9394],'S':[2020.8,0.886],'V':[2023.05,0.973]};
var labHomPD = {'A':[2022.9,0.778],'B':[2020.4,0.8395],'C':[2022.9,0.7026],'D':[2023.5,0.831],'G':[2023.3,0.910],'H':[2022.9,0.9605],'J':[2022.5,0.8145],'L':[2022.9,0.3934],'M':[2022.5,0.875],'N':[2022.9,0.658],'No ATC':[2019.1,0.9605],'P':[2020.7,0.924],'R':[2020.3,0.889],'S':[2023.5,0.857],'V':[2022.9,1.0]};
var labHomAll = {'A':[2023.8,0.792],'B':[2023.8,0.849],'C':[2023.2,0.708],'D':[2021.6,0.822],'G':[2023.8,0.9085],'H':[2023.8,0.937],'J':[2023.2,0.7465],'L':[2023.2,0.496],'M':[2021.5,0.926],'N':[2023.2,0.663],'No ATC':[2021.6,0.966],'P':[2023.8,0.879],'R':[2021.6,0.879],'S':[2019.5,0.849],'V':[2023.2,0.9956]};

// panel layout (pixels) and axis ranges
var panels = [
  {strip:'PK',       data:nodesPK,  lab:labNodesPK,  ticks:ticksNodesPK,  minor:minorNodesPK,  xlab:yearLabelsA,  left:40,  width:328, top:23,  ymin:-7.5,   ymax:246.6},
  {strip:'PD',       data:nodesPD,  lab:labNodesPD,  ticks:ticksNodesPD,  minor:minorNodesPD,  xlab:yearLabelsA,  left:391, width:327, top:23,  ymin:-4.4,   ymax:290.8},
  {strip:'Complete', data:nodesAll, lab:labNodesAll, ticks:ticksNodesAll, minor:minorNodesAll, xlab:yearLabelsA,  left:741, width:327, top:23,  ymin:-4.9,   ymax:329},
  {strip:'PK',       data:edgesPK,  lab:labEdgesPK,  ticks:ticksEdgesPK,  minor:minorEdgesPK,  xlab:yearLabelsBC, left:45,  width:323, top:455, ymin:-114,   ymax:2581},
  {strip:'PD',       data:edgesPD,  lab:labEdgesPD,  ticks:ticksEdgesPD,  minor:minorEdgesPD,  xlab:yearLabelsBC, left:396, width:318, top:455, ymin:-192,   ymax:5116},
  {strip:'Complete', data:edgesAll, lab:labEdgesAll, ticks:ticksEdgesAll, minor:minorEdgesAll, xlab:yearLabelsBC, left:746, width:321, top:455, ymin:-262,   ymax:6731},
  {strip:'PK',       data:homPK,    lab:labHomPK,    ticks:ticksHomPK,    minor:minorHomPK,    xlab:yearLabelsBC, left:34,  width:329, top:893, ymin:0.6104, ymax:1.0198, dec:1},
  {strip:'PD',       data:homPD,    lab:labHomPD,    ticks:ticksHomPD,    minor:minorHomPD,    xlab:yearLabelsBC, left:384, width:330, top:893, ymin:0.365,  ymax:1.032,  dec:1},
  {strip:'Complete', data:homAll,   lab:labHomAll,   ticks:ticksHomAll,   minor:minorHomAll,   xlab:yearLabelsBC, left:735, width:330, top:893, ymin:0.4632, ymax:1.0197, dec:1}
];
var panelHeight = 338;
var xMin = 1985.35, xMax = 2024.75;
var serif = '"Liberation Serif", "DejaVu Serif", serif';
var sans = '"Liberation Sans", Arial, sans-serif';

var measureCtx = document.createElement('canvas').getContext('2d');
measureCtx.font = '10px ' + sans;
function textWidth(s) { return measureCtx.measureText(s).width; }

function toPoints(arr) {
  if (Array.isArray(arr[0])) return arr;          // already [year, value]
  return arr.map(function (v, i) { return [years[i], v]; });
}

var grid = [], xAxis = [], yAxis = [], series = [], graphic = [];

panels.forEach(function (p, g) {
  var halfYears = p.xlab.map(function (y) { return y - 0.5; }).concat([p.xlab[p.xlab.length - 1] + 0.5]);
  grid.push({left:p.left, top:p.top, width:p.width, height:panelHeight, show:true,
    backgroundColor:'#fff', borderColor:'#7f7f7f', borderWidth:1, containLabel:false, outerBoundsMode:'none'});

  // major x axis (labels, ticks, major grid)
  xAxis.push({type:'value', gridIndex:g, min:xMin, max:xMax, position:'bottom',
    axisLine:{show:false},
    axisTick:{show:true, length:3, customValues:p.xlab, lineStyle:{color:'#333', width:0.8}},
    axisLabel:{show:true, customValues:p.xlab, rotate:90, margin:4, hideOverlap:false,
      fontFamily:serif, fontSize:8, color:'#4d4d4d', formatter:function (v) { return String(v); }},
    splitLine:{show:true, lineStyle:{color:'#ebebeb', width:1}}});
  // minor x grid
  xAxis.push({type:'value', gridIndex:g, min:xMin, max:xMax, position:'top',
    axisLine:{show:false}, axisLabel:{show:false},
    axisTick:{show:false, customValues:halfYears},
    splitLine:{show:true, lineStyle:{color:'#f5f5f5', width:1}}});

  yAxis.push({type:'value', gridIndex:g, min:p.ymin, max:p.ymax, position:'left',
    axisLine:{show:false},
    axisTick:{show:true, length:3, customValues:p.ticks, lineStyle:{color:'#333', width:0.8}},
    axisLabel:{show:true, customValues:p.ticks, margin:5, fontFamily:serif, fontSize:9.5, color:'#4d4d4d',
      formatter:function (v) { return p.dec ? v.toFixed(1) : String(v); }},
    splitLine:{show:true, lineStyle:{color:'#ebebeb', width:1}}});
  yAxis.push({type:'value', gridIndex:g, min:p.ymin, max:p.ymax, position:'right',
    axisLine:{show:false}, axisLabel:{show:false},
    axisTick:{show:false, customValues:p.minor},
    splitLine:{show:true, lineStyle:{color:'#f5f5f5', width:1}}});

  groups.forEach(function (name) {
    series.push({
      type:'line', name:name, xAxisIndex:2 * g, yAxisIndex:2 * g,
      data:toPoints(p.data[name]), symbol:'none', showSymbol:false, silent:true,
      lineStyle:{color:groupColors[name], width:1.5}, itemStyle:{color:groupColors[name]},
      clip:true, z:2
    });
  });

  // end labels with leader segments
  var items = groups.map(function (name) {
    var pts = toPoints(p.data[name]);
    var last = pts[pts.length - 1];
    return {name:name, color:groupColors[name], end:last, lab:p.lab[name]};
  });
  series.push({
    type:'custom', xAxisIndex:2 * g, yAxisIndex:2 * g, silent:true, z:10, clip:false,
    data:items.map(function (it) { return [it.end[0], it.end[1], it.lab[0], it.lab[1]]; }),
    renderItem:function (params, api) {
      var it = items[params.dataIndex];
      var p0 = api.coord([api.value(0), api.value(1)]);
      var p1 = api.coord([api.value(2), api.value(3)]);
      var w = textWidth(it.name) + 6, h = 13;
      var x0 = p1[0] - w / 2, y0 = p1[1] - h / 2;
      var qx = Math.min(Math.max(p0[0], x0), x0 + w);
      var qy = Math.min(Math.max(p0[1], y0), y0 + h);
      var kids = [];
      if (Math.sqrt((qx - p0[0]) * (qx - p0[0]) + (qy - p0[1]) * (qy - p0[1])) > 5.5) {
        kids.push({type:'line', shape:{x1:p0[0], y1:p0[1], x2:qx, y2:qy},
          style:{stroke:it.color, lineWidth:0.8}});
      }
      kids.push({type:'rect', shape:{x:x0, y:y0, width:w, height:h, r:2},
        style:{fill:'#fff', stroke:it.color, lineWidth:0.8}});
      kids.push({type:'text', style:{x:p1[0], y:p1[1] + 0.5, text:it.name, fill:it.color,
        font:'10px ' + sans, align:'center', verticalAlign:'middle',
        textAlign:'center', textVerticalAlign:'middle'}});
      return {type:'group', children:kids};
    }
  });

  // facet strip
  graphic.push({type:'rect', silent:true, z:20,
    shape:{x:p.left, y:p.top - 19, width:p.width, height:19},
    style:{fill:'#d9d9d9', stroke:'#7f7f7f', lineWidth:1}});
  graphic.push({type:'text', silent:true, z:21, x:p.left + p.width / 2, y:p.top - 9.5,
    style:{text:p.strip, font:'13px ' + serif, fill:'#1a1a1a', align:'center', verticalAlign:'middle',
      textAlign:'center', textVerticalAlign:'middle'}});
});

// panel letters, axis titles
[['A', 2], ['B', 404], ['C', 842]].forEach(function (t) {
  graphic.push({type:'text', silent:true, z:21, x:3, y:t[1],
    style:{text:t[0], font:'bold 19px ' + sans, fill:'#000', align:'left', verticalAlign:'top',
      textAlign:'left', textVerticalAlign:'top'}});
});
[['Number of nodes', 11, 192], ['Number of edges', 11, 624], ['Homophily (E-I index)', 11, 1062]].forEach(function (t) {
  graphic.push({type:'text', silent:true, z:21, x:t[1], y:t[2], rotation:Math.PI / 2,
    style:{text:t[0], font:'14px ' + serif, fill:'#000', align:'center', verticalAlign:'middle',
      textAlign:'center', textVerticalAlign:'middle'}});
});
[[554, 388], [555, 820], [549, 1257]].forEach(function (t) {
  graphic.push({type:'text', silent:true, z:21, x:t[0], y:t[1],
    style:{text:'Year', font:'15px ' + serif, fill:'#000', align:'center', verticalAlign:'middle',
      textAlign:'center', textVerticalAlign:'middle'}});
});

var chart = echarts.init(document.getElementById('chart'), null, {renderer:'canvas'});
chart.setOption({
  animation:false,
  backgroundColor:'#fff',
  grid:grid, xAxis:xAxis, yAxis:yAxis, series:series, graphic:graphic
});
</script>
</body>
</html>
